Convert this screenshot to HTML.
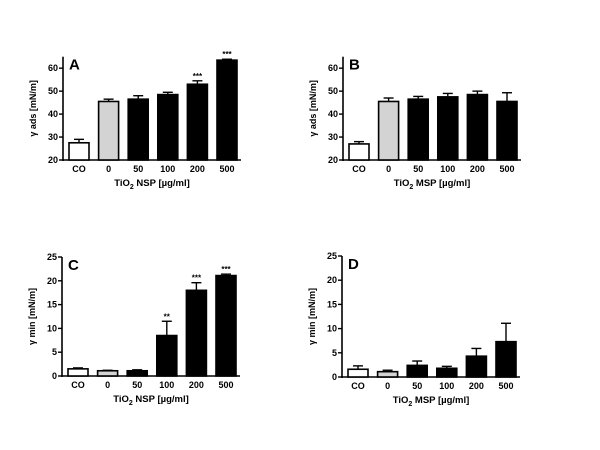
<!DOCTYPE html>
<html><head><meta charset="utf-8"><style>
body{margin:0;background:#fff}
svg{display:block;font-family:"Liberation Sans",Arial,sans-serif}
</style></head><body>
<svg id="c" width="600" height="450"></svg>
<script>
const categories=["CO","0","50","100","200","500"];
const aValues=[27.5,45.5,46.5,48.5,53,63.5];
const aErrors=[1.5,1,1.5,1,1.5,0.4];
const aStars=["","","","","***","***"];
const bValues=[27,45.5,46.5,47.5,48.5,45.5];
const bErrors=[1,1.5,1.2,1.5,1.5,3.8];
const bStars=["","","","","",""];
const cValues=[1.5,1.1,1.1,8.5,18,21.1];
const cErrors=[0.2,0.1,0.2,3,1.6,0.3];
const cStars=["","","","**","***","***"];
const dValues=[1.6,1.1,2.4,1.8,4.3,7.3];
const dErrors=[0.7,0.3,0.9,0.4,1.6,3.8];
const dStars=["","","","","",""];
const adsTicks=[20,30,40,50,60];
const minTicks=[0,5,10,15,20,25];
const NS="http://www.w3.org/2000/svg";
const svg=document.getElementById('c');
function mk(t,a,p){const e=document.createElementNS(NS,t);for(const k in a)e.setAttribute(k,a[k]);(p||svg).appendChild(e);return e;}
function panel(o){
 const g=mk('g',{});
 
 
 const y=v=>o.y0-(v-o.vmin)/(o.vmax-o.vmin)*(o.y0-o.y1);
 const ax=o.x0;
 mk('line',{x1:ax,y1:y(o.vmax),x2:ax,y2:o.y0+1,stroke:'#000','stroke-width':1.6},g);
 mk('line',{x1:ax-1,y1:o.y0,x2:ax+178,y2:o.y0,stroke:'#000','stroke-width':1.6},g);
 o.ticks.forEach(t=>{
  mk('line',{x1:ax-4,y1:y(t),x2:ax,y2:y(t),stroke:'#000','stroke-width':1.4},g);
  const tx=mk('text',{x:ax-5,y:y(t)+3,'font-size':9,'font-weight':'bold','text-anchor':'end'},g);
  tx.textContent=t;
  
  
 });
 const L=mk('text',{x:ax+6,y:y(o.vmax)+13,'font-size':15,'font-weight':'bold'},g);
 L.textContent=o.letter;
 
 
 const cy=(y(o.vmax)+o.y0)/2;
 const yt=mk('text',{x:ax-27,y:cy,'font-size':9,'font-weight':'bold','text-anchor':'middle',transform:`rotate(-90 ${ax-27} ${cy})`},g);
 yt.textContent=o.ylabel;
 
 
 const step=29.6,bw=20;
 categories.forEach((c,i)=>{
  const bx=ax+6+i*step,v=o.vals[i],e=o.errs[i];
  const fill=i==0?'#fff':i==1?'#d3d3d3':'#000';
  mk('line',{x1:bx+bw/2,y1:y(v),x2:bx+bw/2,y2:y(v+e),stroke:'#000','stroke-width':1.4},g);
  mk('line',{x1:bx+bw/2-5,y1:y(v+e),x2:bx+bw/2+5,y2:y(v+e),stroke:'#000','stroke-width':1.4},g);
  const r=mk('rect',{x:bx,y:y(v),width:bw,height:o.y0-y(v),fill:fill,stroke:'#000','stroke-width':1.6},g);
  
  
  const tl=mk('text',{x:bx+bw/2,y:o.y0+12,'font-size':9,'font-weight':'bold','text-anchor':'middle'},g);
  tl.textContent=c;
  
  
  if(o.stars[i]){const s=mk('text',{x:bx+bw/2,y:y(v+e)-2,'font-size':8,'font-weight':'bold','text-anchor':'middle'},g);s.textContent=o.stars[i];
   
   }
 });
 const xt=mk('text',{x:ax+89,y:o.y0+26,'font-size':9.5,'font-weight':'bold','text-anchor':'middle'},g);
 xt.innerHTML='TiO<tspan font-size="7" dy="3">2</tspan><tspan dy="-3"> '+o.xname+' [µg/ml]</tspan>';
 
 
}
panel({letter:'A',x0:63,y0:160,y1:56.7,vmin:20,vmax:65,ticks:adsTicks,vals:aValues,errs:aErrors,stars:aStars,ylabel:'γ ads [mN/m]',xname:'NSP'});
panel({letter:'B',x0:343,y0:160,y1:56.7,vmin:20,vmax:65,ticks:adsTicks,vals:bValues,errs:bErrors,stars:bStars,ylabel:'γ ads [mN/m]',xname:'MSP'});
panel({letter:'C',x0:62,y0:376,y1:257,vmin:0,vmax:25,ticks:minTicks,vals:cValues,errs:cErrors,stars:cStars,ylabel:'γ min [mN/m]',xname:'NSP'});
panel({letter:'D',x0:342,y0:377,y1:256,vmin:0,vmax:25,ticks:minTicks,vals:dValues,errs:dErrors,stars:dStars,ylabel:'γ min [mN/m]',xname:'MSP'});
</script>
</body></html>
